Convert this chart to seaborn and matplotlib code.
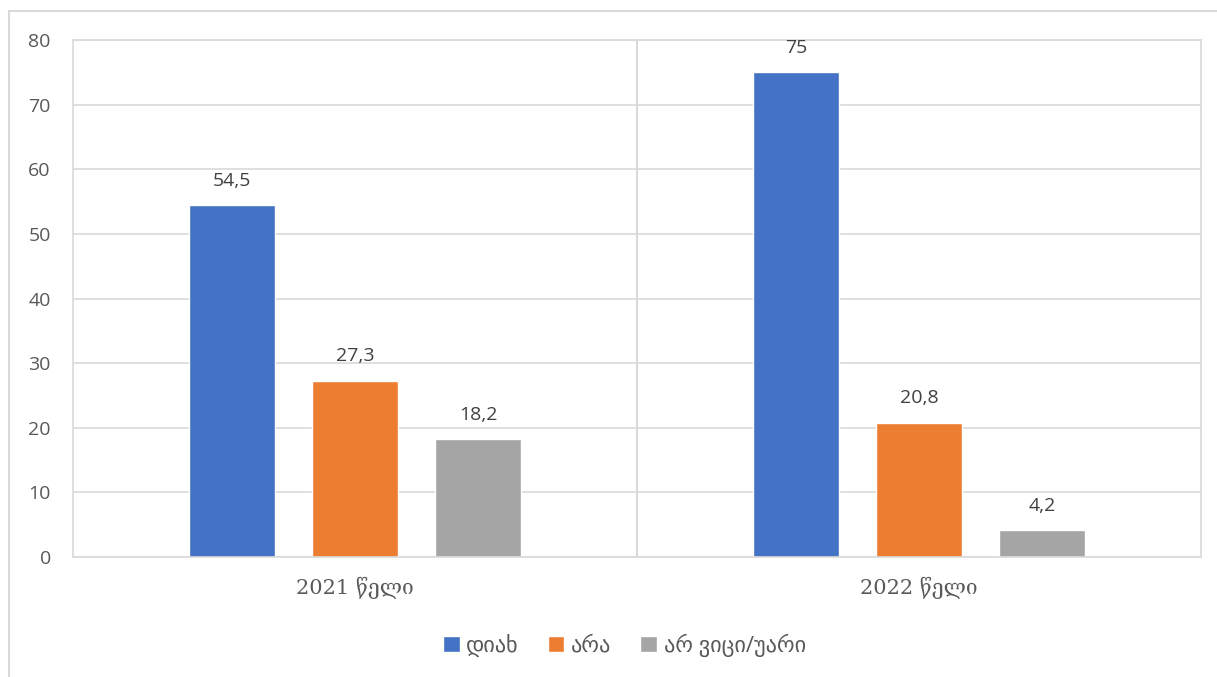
import pandas as pd
import matplotlib.pyplot as plt
import seaborn as sns
from matplotlib.patches import Rectangle

# data
years = ['2021 წელი', '2022 წელი']
answers = ['დიახ', 'არა', 'არ ვიცი/უარი']
yes_vals = [54.5, 75]
no_vals = [27.3, 20.8]
dunno_vals = [18.2, 4.2]
colors = ['#4472C4', '#ED7D31', '#A5A5A5']

rows = []
for i, year in enumerate(years):
    for ans, vals in zip(answers, [yes_vals, no_vals, dunno_vals]):
        rows.append({'year': year, 'answer': ans, 'value': vals[i]})
df = pd.DataFrame(rows)

sns.set_style('white')
plt.rcParams['font.family'] = ['Open Sans', 'DejaVu Sans']

fig = plt.figure(figsize=(12.17, 6.77), dpi=100)
ax = fig.add_axes([73 / 1217, 1 - 557 / 677, (1201 - 73) / 1217, (557 - 40) / 677])

sns.barplot(data=df, x='year', y='value', hue='answer', hue_order=answers,
            palette=colors, width=0.654, gap=0.30, saturation=1, ax=ax, legend=True)

ax.set_ylim(0, 80)
ax.set_xlim(-0.5, 1.5)
ax.set_yticks(range(0, 81, 10))
ax.grid(axis='y', color='#d9d9d9', linewidth=1.2)
ax.set_axisbelow(True)
ax.axvline(0.5, color='#d9d9d9', linewidth=1.5, zorder=0)
for s in ax.spines.values():
    s.set_color('#d9d9d9')
    s.set_linewidth(1.2)
ax.set_xlabel('')
ax.set_ylabel('')
ax.tick_params(axis='y', labelsize=14, labelcolor='#595959', length=0, pad=16)
ax.tick_params(axis='x', length=0, pad=14)
for lab in ax.get_xticklabels():
    lab.set_family(['DejaVu Serif'])
    lab.set_fontsize(15)
    lab.set_color('#595959')

for cont in ax.containers:
    labels = [f'{v:g}'.replace('.', ',') for v in cont.datavalues]
    ax.bar_label(cont, labels=labels, padding=11, fontsize=14, color='#404040')

handles, labs = ax.get_legend_handles_labels()
ax.legend_.remove()
fig.legend(handles, labs, loc='center', bbox_to_anchor=(0.513, 1 - 645 / 677), ncol=3,
           frameon=False, fontsize=16, handlelength=0.75, handleheight=0.75,
           handletextpad=0.3, columnspacing=1.3, labelcolor='#595959')

# outer chart frame (left and top edges visible in the reference)
fig.patches.append(Rectangle((9 / 1217, -0.01), 1.2, 1 - 11 / 677 + 0.01,
                             transform=fig.transFigure, fill=False,
                             edgecolor='#d9d9d9', linewidth=1.5))

fig.savefig('out.png', dpi=100)
